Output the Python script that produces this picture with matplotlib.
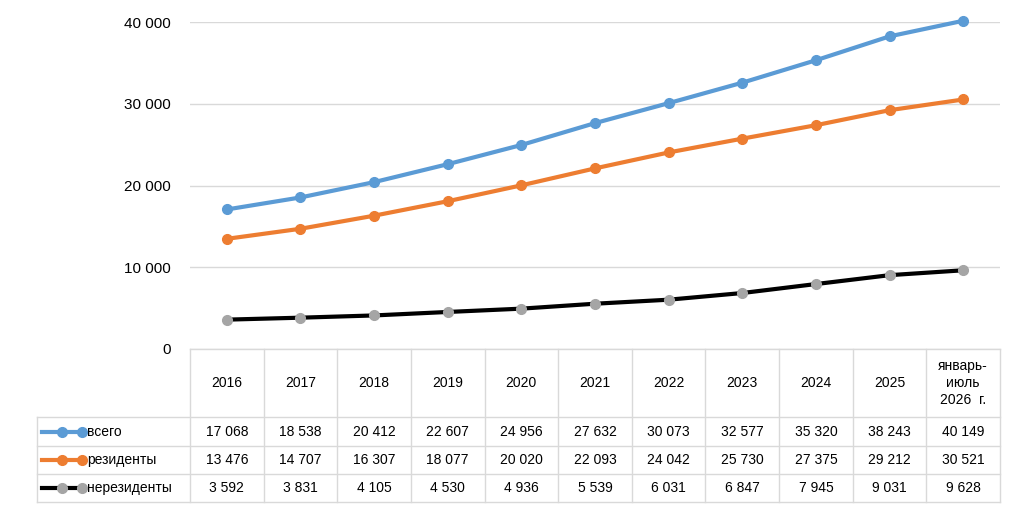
import matplotlib.pyplot as plt
from matplotlib.lines import Line2D

plt.rcParams['font.family'] = ['Liberation Sans', 'DejaVu Sans']

years = ['2016', '2017', '2018', '2019', '2020', '2021', '2022', '2023', '2024', '2025', 'январь-\nиюль\n2026  г.']
total = [17068, 18538, 20412, 22607, 24956, 27632, 30073, 32577, 35320, 38243, 40149]
residents = [13476, 14707, 16307, 18077, 20020, 22093, 24042, 25730, 27375, 29212, 30521]
nonres = [3592, 3831, 4105, 4530, 4936, 5539, 6031, 6847, 7945, 9031, 9628]
names = ['всего', 'резиденты', 'нерезиденты']

series = [total, residents, nonres]
line_cols = ['#5b9bd5', '#ed7d31', '#000000']
mark_cols = ['#5b9bd5', '#ed7d31', '#a5a5a5']
grid = '#d9d9d9'

def fmt(v):
    return '{:,}'.format(v).replace(',', ' ')

fig = plt.figure(figsize=(10.24, 5.14), dpi=100)
ax = fig.add_axes([190/1024, (514-349)/514, 810/1024, 327/514])
n = len(years)
xs = list(range(n))
ax.set_xlim(-0.5, n - 0.5)
ax.set_ylim(0, 40000)
ax.set_yticks(range(0, 40001, 10000))
ax.set_yticklabels([fmt(v) for v in range(0, 40001, 10000)], fontsize=11)
ax.set_xticks([])
ax.yaxis.grid(True, color=grid, lw=1)
ax.set_axisbelow(True)
for s in ax.spines.values():
    s.set_visible(False)
ax.tick_params(axis='y', length=0, pad=14)

for vals, lc, mc in zip(series, line_cols, mark_cols):
    ax.plot(xs, vals, color=lc, lw=3, marker='o', ms=7, mfc=mc, mec=mc, clip_on=False, zorder=3)

# data table
tr = ax.transAxes
def ax_y(py):
    return (349 - py) / 327
def ax_x(px):
    return (px - 190) / 810

rows_y = [349, 417, 446, 474, 502]
left = 37
kw = dict(color=grid, lw=1, clip_on=False)
for i, py in enumerate(rows_y):
    x0 = 0 if i == 0 else ax_x(left)
    ax.add_line(Line2D([x0, 1], [ax_y(py)] * 2, transform=tr, **kw))
ax.add_line(Line2D([ax_x(left)] * 2, [ax_y(417), ax_y(502)], transform=tr, **kw))
for j in range(n + 1):
    ax.add_line(Line2D([j / n] * 2, [ax_y(349), ax_y(502)], transform=tr, **kw))

for j, lab in enumerate(years):
    ax.text((j + 0.5) / n, ax_y(383), lab, transform=tr, ha='center', va='center',
            fontsize=10, linespacing=1.3)
for i, (vals, nm) in enumerate(zip(series, names)):
    yc = ax_y((rows_y[i + 1] + rows_y[i + 2]) / 2)
    for j, v in enumerate(vals):
        ax.text((j + 0.5) / n, yc, fmt(v), transform=tr, ha='center', va='center', fontsize=10)
    ax.add_line(Line2D([ax_x(42), ax_x(82)], [yc, yc], transform=tr, color=line_cols[i], lw=3,
                       marker='o', markevery=[1], ms=7, mfc=mark_cols[i], mec=mark_cols[i],
                       clip_on=False))
    ax.add_line(Line2D([ax_x(62)], [yc], transform=tr, lw=0, marker='o', ms=7,
                       mfc=mark_cols[i], mec=mark_cols[i], clip_on=False))
    ax.text(ax_x(87), yc, nm, transform=tr, ha='left', va='center', fontsize=10)

fig.savefig('out.png', dpi=100)
